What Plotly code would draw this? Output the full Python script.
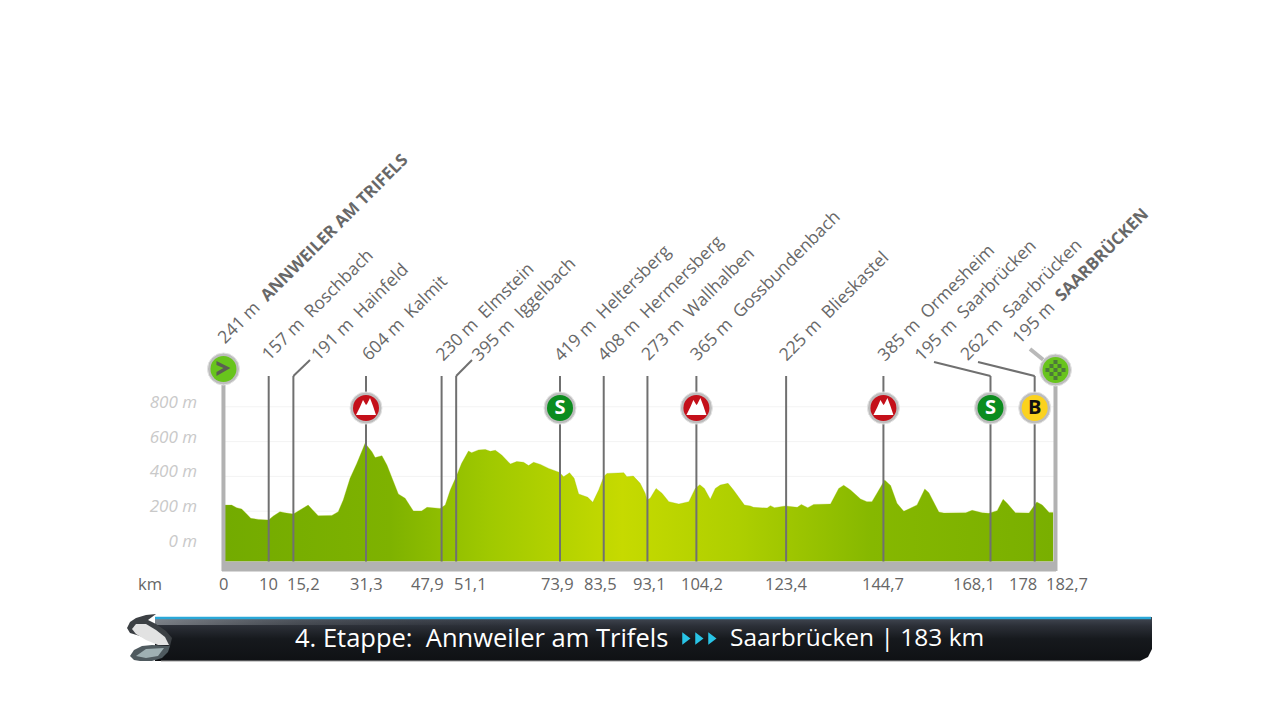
import plotly.graph_objects as go

# ---------- data ----------
profile_km = [0.3,1.8,2.9,4.0,5.1,6.0,7.7,9.9,10.95,12.4,13.5,15.35,16.8,18.6,19.6,20.8,23.8,25.2,26.3,27.8,29.3,31.1,32.6,33.3,34.8,35.9,38.4,39.9,41.7,43.5,44.7,47.6,48.7,
 49.8,51.1,52.3,53.8,54.5,56,57.5,58.6,59.7,61.1,63,64.4,65.9,67,68.1,69.6,71.4,73.8,74.7,76,77,78,80,81.1,82.4,83.5,84.2,87.9,88.6,90,91.5,92.6,93,93.7,95,96.3,97.8,100,102.2,103.6,104.6,105.6,106.9,108,109.1,110.8,112,114.4,115.7,116.4,119.4,120.1,
 121,123.4,126,126.9,128.3,129.6,133.3,135.1,136.2,137.7,139.9,141.3,142.4,143.5,145.2,146.5,147.9,149.4,152.3,154,154.9,157.1,158.2,163,164.4,166.6,168.1,169.9,171.2,172.1,173.9,176.9,178.6,179.8,181.3,182.2]
profile_m = [235,235,220,213,184,159,153,149,172,197,191,184,207,235,207,174,176,197,264,389,475,590,542,508,519,465,299,274,201,201,222,216,235,
 322,398,475,546,536,552,555,544,550,523,471,485,481,462,481,469,446,423,398,421,389,299,280,251,322,398,417,421,398,402,360,303,264,274,331,303,255,241,255,331,352,331,268,331,350,360,322,235,230,222,218,232,
 220,230,222,239,220,239,241,331,349,322,270,255,255,303,379,347,245,199,236,328,306,195,190,191,205,191,188,203,268,245,191,190,253,236,193,193]

km_marks = [0,10,15.2,31.3,47.9,51.1,73.9,83.5,93.1,104.2,123.4,144.7,168.1,178,182.7]
km_text = ["0","10","15,2","31,3","47,9","51,1","73,9","83,5","93,1","104,2","123,4","144,7","168,1","178","182,7"]
km_label_shift = [0,-1,11,0,-14,14,-3,-3,2,4,1,1,-15,-11,12]
line_nudge = [0,-0.3,0.7,0,0,0,0,0,0,-1.6,0.7,1,1.5,0.6,0]

BOLD = "<span style='font-size:16.8px'><b>%s</b></span>"
places = ["241 m  " + BOLD % "ANNWEILER AM TRIFELS","157 m  Roschbach","191 m  Hainfeld","604 m  Kalmit","230 m  Elmstein","395 m  Iggelbach",
          "419 m  Heltersberg","408 m  Hermersberg","273 m  Wallhalben","365 m  Gossbundenbach","225 m  Blieskastel","385 m  Ormesheim",
          "195 m  Saarbrücken","262 m  Saarbrücken","195 m  " + BOLD % "SAARBRÜCKEN"]
place_shift = [-15,-16,10,-13,-15,7,-15,-15,-15,-17,-15,-14,-83,-83,-52]

y_ticks = [0,200,400,600,800]
y_text = ["0 m","200 m","400 m","600 m","800 m"]

climb = [3,9,11]
sprint = [6,12]
bonus = [13]

title_left = "4. Etappe:  Annweiler am Trifels"
title_right = "Saarbrücken | 183 km"

# ---------- scale: whole page is the coordinate system ----------
KM_PX, KM0 = 4.554, 223.46
M_PX, M0 = 0.174, 546
X = lambda px: (px - KM0) / KM_PX
Y = lambda py: (M0 - py) / M_PX
BASE, TOP, ICON, BAR = Y(561.5), Y(376), Y(408), Y(571)
mark_x = [k + n / KM_PX for k, n in zip(km_marks, line_nudge)]
climb_km = [mark_x[i] for i in climb]
sprint_km = [mark_x[i] for i in sprint]
bonus_km = [mark_x[i] for i in bonus]

DARK, GREY = "#707070", "#b2b2b2"
fig = go.Figure()

def line(xs, ys, color=DARK, width=2):
    fig.add_trace(go.Scatter(x=xs, y=ys, mode="lines", line=dict(color=color, width=width), hoverinfo="skip", showlegend=False))

# grid
for t in y_ticks[1:]:
    line([0, 182.7], [t, t], "#f3f3f3", 1)

# area
xs = [0.2] + profile_km
ys = [profile_m[0]] + profile_m
fig.add_trace(go.Scatter(x=xs, y=[BASE]*len(xs), mode="lines", line=dict(width=0), hoverinfo="skip", showlegend=False))
fig.add_trace(go.Scatter(x=xs, y=ys, mode="lines", line=dict(width=0.5, color="rgba(150,190,0,.6)"), fill="tonexty",
    fillgradient=dict(type="horizontal", colorscale=[[0,"#73ab00"],[0.2,"#7eb200"],[0.32,"#a0c900"],[0.48,"#c6da00"],[0.62,"#aecf00"],[0.78,"#86b800"],[1,"#79af00"]]),
    hoverinfo="skip", showlegend=False))

# frame
line([0, 0], [BAR, Y(376)], GREY, 4)
line([182.7, 182.7], [BAR, Y(376)], GREY, 4)
line([X(222), X(1056)], [Y(566.5), Y(566.5)], GREY, 10)

# leader lines
for k in mark_x[1:-1]:
    line([k, k], [BASE, TOP])
line([mark_x[2], X(310)], [TOP, Y(360)])
line([mark_x[5], X(472)], [TOP, Y(360)])
line([mark_x[12], X(934)], [TOP, Y(362)])
line([mark_x[13], X(978)], [TOP, Y(362)])
line([X(1030), X(1046)], [Y(349), Y(362)], "#b9b9b9", 4)

# icons
def medal(xv, yv, fill, rim="#bdbdbd"):
    fig.add_trace(go.Scatter(x=xv, y=yv, mode="markers", hoverinfo="skip", showlegend=False,
        marker=dict(size=32, color=rim, line=dict(width=1, color="#e4e4e4"))))
    fig.add_trace(go.Scatter(x=xv, y=yv, mode="markers", hoverinfo="skip", showlegend=False,
        marker=dict(size=26, color=fill, line=dict(width=0))))

medal(climb_km, [ICON]*3, "#c4101a")
medal(sprint_km, [ICON]*2, "#0b8c1e")
medal(bonus_km, [ICON], "#fbd21e")
medal([0], [Y(369)], "#68c41c")
medal([182.7], [Y(370)], "#68c41c")

fig.add_trace(go.Scatter(x=sprint_km + bonus_km, y=[ICON-3]*3, mode="text", text=["<b>S</b>","<b>S</b>","<b>B</b>"],
    textfont=dict(family="Open Sans", size=20, color=["#ffffff","#ffffff","#111111"]), hoverinfo="skip", showlegend=False))

shapes = []
mountain = "M -10 -7 L -6 1 L -3 8 L 0 3 L 1 4 L 4 10 L 7 2 L 10 -7 Z"
for k in climb_km:
    shapes.append(dict(type="path", xsizemode="pixel", ysizemode="pixel", xanchor=k, yanchor=ICON, path=mountain,
                       fillcolor="#ffffff", line=dict(width=0), layer="above"))
shapes.append(dict(type="path", xsizemode="pixel", ysizemode="pixel", xanchor=0, yanchor=Y(369),
                   path="M -7 8 L 7 1 L -7 -7 L -7 -3 L 0 1 L -7 4 Z", fillcolor="#5b5f52", line=dict(width=0), layer="above"))
for i in range(-2, 3):
    for j in range(-2, 3):
        if abs(i) + abs(j) < 4 and (i + j) % 2 == 0:
            cx, cy = i * 4, j * 4
            shapes.append(dict(type="path", xsizemode="pixel", ysizemode="pixel", xanchor=182.7, yanchor=Y(370),
                path=f"M {cx-2} {cy-2} L {cx+2} {cy-2} L {cx+2} {cy+2} L {cx-2} {cy+2} Z",
                fillcolor="#4d7a3a", line=dict(width=0), layer="above"))

annotations = []
# rotated place labels
for k, t, s in zip(km_marks, places, place_shift):
    yv = Y(351) if "<b>" in t else Y(368)
    annotations.append(dict(x=k, y=yv, xref="x", yref="y", text=t, textangle=-45, showarrow=False, xanchor="left", yanchor="bottom",
                            xshift=s, font=dict(family="Open Sans", size=17.5, color="#686868")))
# km labels
for k, t, s in zip(km_marks, km_text, km_label_shift):
    annotations.append(dict(x=k, y=Y(583.5), xref="x", yref="y", text=t, showarrow=False, xshift=s,
                            font=dict(family="Open Sans", size=16.5, color="#666666")))
annotations.append(dict(x=X(150), y=Y(583.5), xref="x", yref="y", text="km", showarrow=False,
                        font=dict(family="Open Sans", size=16.5, color="#666666")))

# ---------- banner ----------
L, R, T, B = 155, 1152, 617, 661
bx = [X(v) for v in [L, R, R, R-4, R-12, L, L]]
by = [Y(v) for v in [T, T, B-12, B-4, B, B, T]]
fig.add_trace(go.Scatter(x=bx, y=by, mode="lines", line=dict(width=0), fill="toself", hoverinfo="skip", showlegend=False,
    fillgradient=dict(type="vertical", colorscale=[[0,"#0f1114"],[0.5,"#16191d"],[0.8,"#2c3038"],[1,"#444a55"]])))
sx = [X(v) for v in [L, 520, 520, L, L]]
sy = [Y(v) for v in [T+1, T+1, T+8, T+8, T+1]]
fig.add_trace(go.Scatter(x=sx, y=sy, mode="lines", line=dict(width=0), fill="toself", hoverinfo="skip", showlegend=False,
    fillgradient=dict(type="horizontal", colorscale=[[0,"rgba(170,175,180,0.6)"],[0.4,"rgba(120,125,130,0.3)"],[1,"rgba(60,65,72,0)"]])))
line([X(L), X(R-1)], [Y(T+1), Y(T+1)], "#2aa8d8", 2.5)
line([X(L+6), X(R-12)], [Y(B), Y(B)], "#9a9a9a", 1)

# cyan arrows
fig.add_trace(go.Scatter(x=[X(685), X(698), X(711)], y=[Y(638.5)]*3, mode="markers", hoverinfo="skip", showlegend=False,
    marker=dict(symbol="triangle-right", size=11, color="#29c4e6", line=dict(width=0))))

annotations.append(dict(x=X(670), y=Y(636.5), xref="x", yref="y", text=title_left, showarrow=False, xanchor="right",
                        font=dict(family="Open Sans", size=25.5, color="#ffffff")))
annotations.append(dict(x=X(728), y=Y(636.5), xref="x", yref="y", text=title_right, showarrow=False, xanchor="left",
                        font=dict(family="Open Sans", size=24.5, color="#ffffff")))

# logo
def poly(pts, fill):
    shapes.append(dict(type="path", xref="x", yref="y", layer="above", fillcolor=fill, line=dict(width=0),
        path="M " + " L ".join(f"{X(a):.3f} {Y(b):.3f}" for a, b in pts) + " Z"))
poly([(156,614),(146,615),(136,618),(130,622),(127,628),(130,633),(140,636),(156,641),(170,646),(172,638),(166,631),(156,624),(148,620)], "#3c4044")
poly([(136,624),(146,624),(156,630),(165,637),(169,645),(158,645),(146,640),(136,634),(132,629)], "#e2e2e2")
poly([(130,656),(134,650),(142,646),(152,645),(170,646),(168,652),(162,658),(152,661),(140,661),(134,660)], "#4f5a5f")
poly([(136,656),(146,649),(164,648),(158,656),(146,658)], "#9fb0b3")

fig.update_layout(
    width=1280, height=720, margin=dict(l=0, r=0, t=0, b=0), paper_bgcolor="#ffffff", plot_bgcolor="#ffffff",
    showlegend=False, shapes=shapes, annotations=annotations,
    xaxis=dict(range=[X(0), X(1280)], visible=False, fixedrange=True),
    yaxis=dict(range=[Y(720), Y(0)], tickmode="array", tickvals=y_ticks, ticktext=y_text, anchor="free", position=197/1280,
               showgrid=False, zeroline=False, showline=False, ticks="", ticklabelshift=-5, ticklabelposition="outside",
               tickfont=dict(family="Open Sans", size=17, color="#c9c9c9", style="italic"), fixedrange=True),
)
fig.write_html("out.html", config=dict(displayModeBar=False), post_script="document.body.style.margin='0';")
